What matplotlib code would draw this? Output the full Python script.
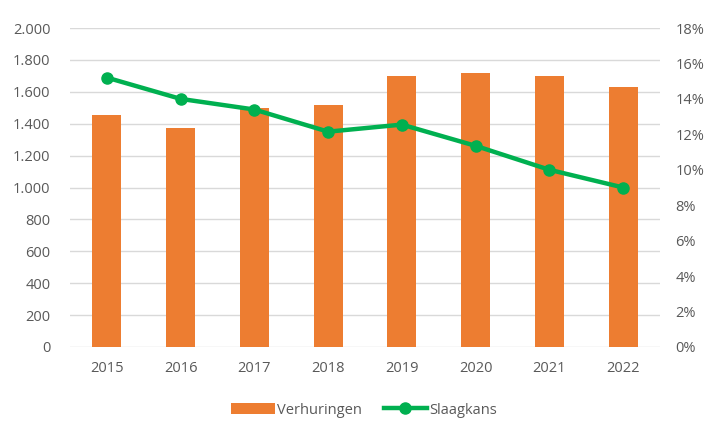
import matplotlib
matplotlib.use("Agg")
import matplotlib.pyplot as plt
from matplotlib.ticker import FuncFormatter

years = ["2015", "2016", "2017", "2018", "2019", "2020", "2021", "2022"]
verhuringen = [1455, 1372, 1499, 1518, 1697, 1720, 1697, 1630]
slaagkans = [15.2, 14.0, 13.4, 12.15, 12.55, 11.35, 10.0, 9.0]

plt.rcParams['font.family'] = ['Open Sans', 'DejaVu Sans']
txt = '#595959'
orange = '#ED7D31'
green = '#00B050'

fig = plt.figure(figsize=(7.15, 4.24), dpi=100)
ax = fig.add_axes([70/715, 1-347/424, 590/715, 319/424])
x = list(range(len(years)))
bars = ax.bar(x, verhuringen, width=0.39, color=orange, zorder=2, label='Verhuringen')
ax.set_xlim(-0.5, len(years)-0.5)
ax.set_ylim(0, 2000)
ax.set_yticks(range(0, 2001, 200))
ax.yaxis.set_major_formatter(FuncFormatter(lambda v, p: f"{int(v):,}".replace(',', '.')))
ax.set_xticks(x)
ax.set_xticklabels(years)
ax.grid(axis='y', color='#D9D9D9', lw=1, zorder=0)
for s in ax.spines.values():
    s.set_visible(False)
ax.tick_params(length=0, colors=txt, labelsize=10.5)
ax.tick_params(axis='x', pad=10)
ax.tick_params(axis='y', pad=14)

ax2 = ax.twinx()
line, = ax2.plot(x, slaagkans, color=green, lw=3.2, marker='o', markersize=8, zorder=3, label='Slaagkans')
ax2.set_ylim(0, 18)
ax2.set_yticks(range(0, 19, 2))
ax2.yaxis.set_major_formatter(FuncFormatter(lambda v, p: f"{int(v)}%"))
for s in ax2.spines.values():
    s.set_visible(False)
ax2.tick_params(length=0, colors=txt, labelsize=10.5, pad=11)

leg = fig.legend([bars, line], ['Verhuringen', 'Slaagkans'], loc='center', bbox_to_anchor=(364/715, 1-410/424),
                 ncol=2, frameon=False, fontsize=10.5, handlelength=3.0, columnspacing=1.5, handletextpad=0.15)
for t in leg.get_texts():
    t.set_color(txt)

fig.savefig('out.png', dpi=100)
